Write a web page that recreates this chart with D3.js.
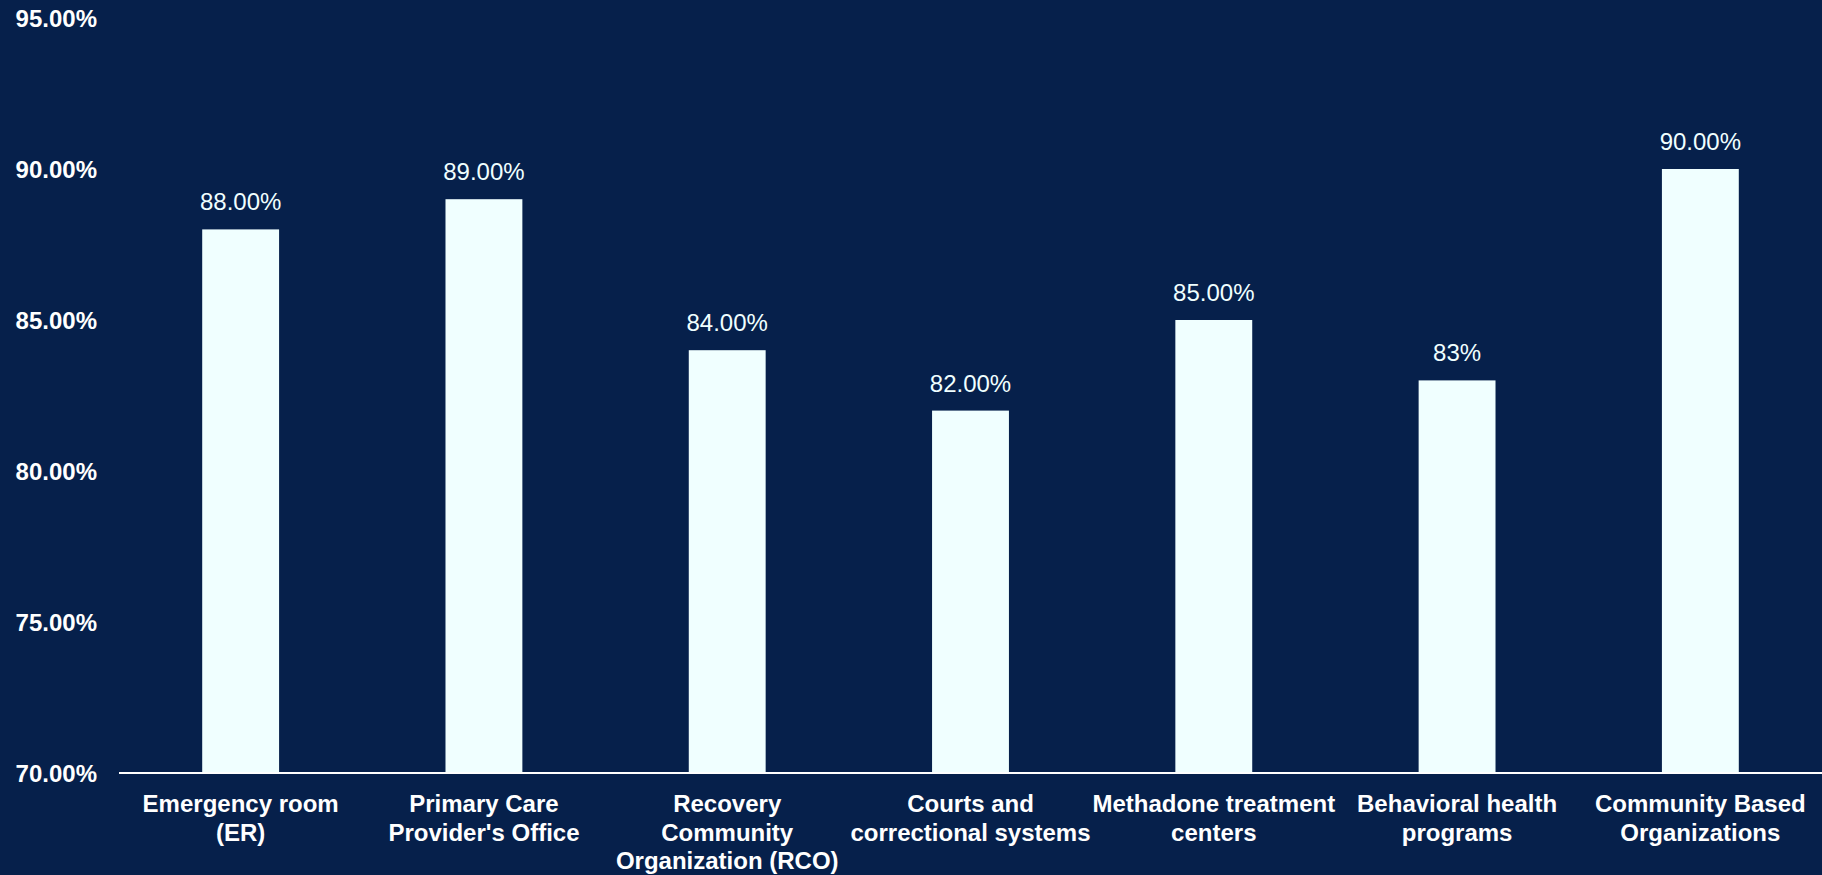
<!DOCTYPE html>
<html>
<head>
<meta charset="utf-8">
<script src="https://cdn.jsdelivr.net/npm/d3@7"></script>
<style>
  html, body { margin: 0; padding: 0; background: #06204b; }
  svg { display: block; }
</style>
</head>
<body>
<svg id="chart" width="1822" height="875"></svg>
<script>
const categories = [
  "Emergency room (ER)",
  "Primary Care Provider's Office",
  "Recovery Community Organization (RCO)",
  "Courts and correctional systems",
  "Methadone treatment centers",
  "Behavioral health programs",
  "Community Based Organizations"
];
const values = [88, 89, 84, 82, 85, 83, 90];
const valueLabels = ["88.00%", "89.00%", "84.00%", "82.00%", "85.00%", "83%", "90.00%"];
const yTicks = [70, 75, 80, 85, 90, 95];

const W = 1822, H = 875;
const svg = d3.select("#chart");
svg.append("rect").attr("width", W).attr("height", H).attr("fill", "#06204b");

const x = d3.scaleBand().domain(categories).range([119, 1822]).paddingInner(0.684).paddingOuter(0.342);
const y = d3.scaleLinear().domain([70, 95]).range([773, 18]);

const font = "'Liberation Sans', Arial, sans-serif";

// Y axis labels
const yAxis = d3.axisLeft(y).tickValues(yTicks).tickSize(0).tickPadding(0)
  .tickFormat(d => d.toFixed(2) + "%");
const yg = svg.append("g").attr("transform", "translate(97,0)").call(yAxis);
yg.select(".domain").remove();
yg.selectAll("text")
  .attr("fill", "#ffffff")
  .attr("font-family", font)
  .attr("font-size", 24)
  .attr("font-weight", "bold")
  .attr("dy", "0.35em");

// Bars
svg.selectAll("rect.bar").data(categories).enter().append("rect")
  .attr("class", "bar")
  .attr("x", d => x(d))
  .attr("width", x.bandwidth())
  .attr("y", (d, i) => y(values[i]))
  .attr("height", (d, i) => y(70) - y(values[i]))
  .attr("fill", "#f0ffff");

// Value labels
svg.selectAll("text.val").data(categories).enter().append("text")
  .attr("class", "val")
  .attr("x", d => x(d) + x.bandwidth() / 2)
  .attr("y", (d, i) => y(values[i]) - 19)
  .attr("text-anchor", "middle")
  .attr("fill", "#f0ffff")
  .attr("font-family", font)
  .attr("font-size", 24)
  .text((d, i) => valueLabels[i]);

// X axis
const xAxis = d3.axisBottom(x).tickSize(0).tickPadding(0);
const xg = svg.append("g").attr("transform", "translate(0,773)").call(xAxis);
xg.select(".domain").attr("stroke", "#ffffff").attr("stroke-width", 2)
  .attr("d", "M119,0H1822");
xg.selectAll("text").remove();

// Wrapped category labels
const measure = svg.append("text").attr("font-family", font).attr("font-size", 24).attr("font-weight", "bold").attr("visibility", "hidden");
function wrap(str, maxW) {
  const words = str.split(" ");
  const lines = [];
  let cur = "";
  words.forEach(w => {
    const test = cur ? cur + " " + w : w;
    measure.text(test);
    if (measure.node().getComputedTextLength() > maxW && cur) {
      lines.push(cur);
      cur = w;
    } else cur = test;
  });
  if (cur) lines.push(cur);
  return lines;
}
xg.selectAll(".tick").each(function(d) {
  const lines = wrap(d, 245);
  const t = d3.select(this).append("text")
    .attr("text-anchor", "middle")
    .attr("fill", "#ffffff")
    .attr("font-family", font)
    .attr("font-size", 24)
    .attr("font-weight", "bold");
  lines.forEach((l, i) => {
    t.append("tspan").attr("x", 0).attr("y", 39 + i * 28.5).text(l);
  });
});
measure.remove();
</script>
</body>
</html>
